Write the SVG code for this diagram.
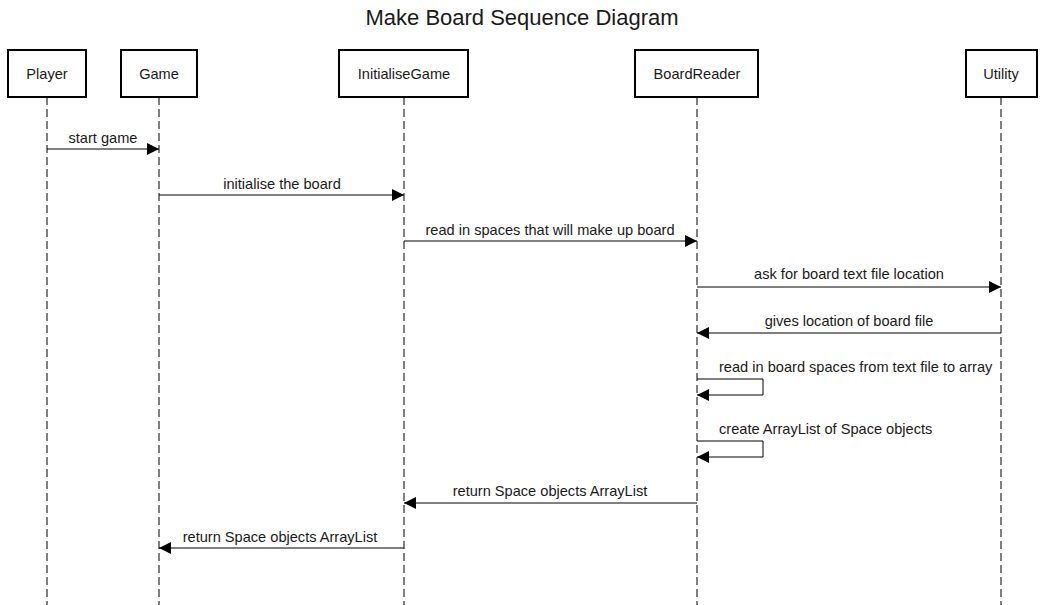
<svg xmlns="http://www.w3.org/2000/svg" width="1045" height="605" viewBox="0 0 1045 605">
<style>
.box{fill:#fff;stroke:#000;stroke-width:2}
.life{stroke:#000;stroke-width:1;stroke-dasharray:8 4;fill:none}
.msg{stroke:#000;stroke-width:1;fill:none}
text{font-family:"Liberation Sans",Arial,sans-serif;fill:#1a1a1a}
.lbl{font-size:14.6px;text-anchor:middle}
.self{font-size:14.6px;text-anchor:start}
.nm{font-size:14.6px;text-anchor:middle}
.title{font-size:22px;text-anchor:middle}
</style>
<defs>
<marker id="ah" markerWidth="12" markerHeight="12" refX="12" refY="6" orient="auto" markerUnits="userSpaceOnUse">
<path d="M0,0 L12,6 L0,12 Z" fill="#000"/>
</marker>
</defs>
<rect width="1045" height="605" fill="#fff"/>
<text class="title" x="522" y="25">Make Board Sequence Diagram</text>
<g id="lifelines">
<line class="life" x1="47" y1="97" x2="47" y2="605"/>
<line class="life" x1="159" y1="97" x2="159" y2="605"/>
<line class="life" x1="404" y1="97" x2="404" y2="605"/>
<line class="life" x1="697" y1="97" x2="697" y2="605"/>
<line class="life" x1="1001" y1="97" x2="1001" y2="605"/>
</g>
<g id="player"><rect class="box" x="8" y="50" width="78" height="47"/><text class="nm" x="47" y="79">Player</text></g>
<g id="game"><rect class="box" x="121" y="50" width="76" height="47"/><text class="nm" x="159" y="79">Game</text></g>
<g id="initialisegame"><rect class="box" x="339" y="50" width="129" height="47"/><text class="nm" x="404" y="79">InitialiseGame</text></g>
<g id="boardreader"><rect class="box" x="635" y="50" width="123" height="47"/><text class="nm" x="697" y="79">BoardReader</text></g>
<g id="utility"><rect class="box" x="966" y="50" width="71" height="47"/><text class="nm" x="1001" y="79">Utility</text></g>
<g id="connectors">
<line class="msg" x1="47" y1="149" x2="159" y2="149" marker-end="url(#ah)"/>
<text class="lbl" x="103" y="143">start game</text>
<line class="msg" x1="159" y1="195" x2="404" y2="195" marker-end="url(#ah)"/>
<text class="lbl" x="282" y="189">initialise the board</text>
<line class="msg" x1="404" y1="241" x2="697" y2="241" marker-end="url(#ah)"/>
<text class="lbl" x="550" y="235">read in spaces that will make up board</text>
<line class="msg" x1="697" y1="287" x2="1001" y2="287" marker-end="url(#ah)"/>
<text class="lbl" x="849" y="279">ask for board text file location</text>
<line class="msg" x1="1001" y1="333" x2="697" y2="333" marker-end="url(#ah)"/>
<text class="lbl" x="849" y="326">gives location of board file</text>
<path class="msg" d="M697,379 H763 V395 H697" marker-end="url(#ah)"/>
<text class="self" x="719" y="372">read in board spaces from text file to array</text>
<path class="msg" d="M697,441 H763 V457 H697" marker-end="url(#ah)"/>
<text class="self" x="719" y="434">create ArrayList of Space objects</text>
<line class="msg" x1="697" y1="503" x2="404" y2="503" marker-end="url(#ah)"/>
<text class="lbl" x="550" y="496">return Space objects ArrayList</text>
<line class="msg" x1="404" y1="548" x2="159" y2="548" marker-end="url(#ah)"/>
<text class="lbl" x="280" y="542">return Space objects ArrayList</text>
</g>
</svg>
